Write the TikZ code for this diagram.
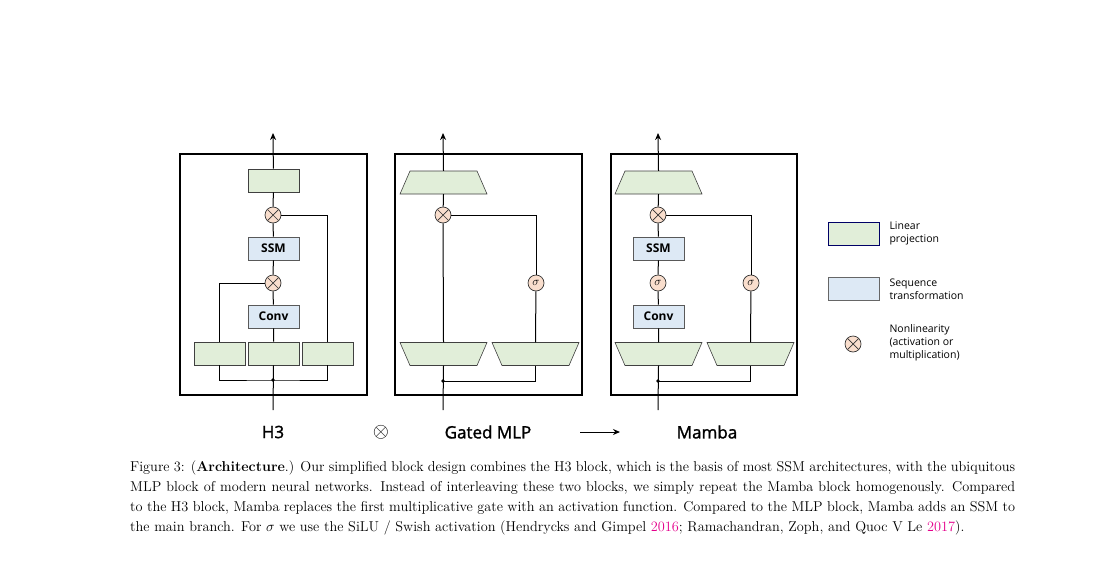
\documentclass[tikz,border=0pt]{standalone}
\usepackage{fontspec}
\newfontfamily\osans{Open Sans}
\newfontfamily\osanssb{Open Sans}[FakeBold=1.5]
\usetikzlibrary{arrows.meta,calc}
\definecolor{lgreen}{HTML}{E1EED9}
\definecolor{lblue}{HTML}{DDE9F5}
\definecolor{lpeach}{HTML}{F9DECD}
\definecolor{cite}{RGB}{228,0,140}
% #1 name, #2 cx, #3 cy, #4 = +1 wide at bottom, -1 wide at top
\newcommand\mytrap[4]{%
  \node[minimum width=87pt,minimum height=23pt,inner sep=0pt] (#1) at (#2,#3) {};
  \draw[draw=black!75,fill=lgreen,line width=0.6pt]
    ($(#1.center)+(-43.5+5+5*#4,-11.5)$) -- ($(#1.center)+(43.5-5-5*#4,-11.5)$) --
    ($(#1.center)+(43.5-5+5*#4,11.5)$) -- ($(#1.center)+(-43.5+5-5*#4,11.5)$) -- cycle;}
\begin{document}
\begin{tikzpicture}[x=1pt,y=-1pt,
  lin/.style={draw=black!75,fill=lgreen,minimum width=51pt,minimum height=23pt,inner sep=0pt,line width=0.6pt},
  seq/.style={draw=black!65,fill=lblue,minimum width=51pt,minimum height=23pt,inner sep=0pt,line width=0.6pt,font=\osans\bfseries\fontsize{12}{12}\selectfont},
  mul/.style={circle,draw=black!80,fill=lpeach,minimum size=16pt,inner sep=0pt,line width=0.7pt,
    path picture={\draw[line width=0.7pt] ([xshift=-5.5pt,yshift=-5.5pt]path picture bounding box.center)--([xshift=5.5pt,yshift=5.5pt]path picture bounding box.center) ([xshift=-5.5pt,yshift=5.5pt]path picture bounding box.center)--([xshift=5.5pt,yshift=-5.5pt]path picture bounding box.center);}},
  sig/.style={circle,draw=black!80,fill=lpeach,minimum size=16pt,inner sep=0pt,line width=0.7pt,font=\fontsize{13}{13}\selectfont},
  frame/.style={draw,line width=1.5pt},
  wire/.style={line width=1pt},
  arr/.style={wire,-{Stealth[length=7pt,width=6pt]}},
  lbl/.style={font=\osanssb\fontsize{17}{17}\selectfont},
  leg/.style={font=\osans\fontsize{10.5}{13}\selectfont,align=left,anchor=west}]
\useasboundingbox (0,0) rectangle (1105,573);
% ---------- H3
\draw[frame] (180,154) rectangle (367,395);
\node[lin] (h3top) at (273.5,180.5) {};
\node[mul] (h3m1) at (273,215) {};
\node[seq] (h3ssm) at (273.5,248.5) {SSM};
\node[mul] (h3m2) at (273,283) {};
\node[seq] (h3conv) at (273.5,316.5) {Conv};
\node[lin] (h3l) at (219.5,353.5) {};
\node[lin] (h3c) at (273.5,353.5) {};
\node[lin] (h3r) at (327.5,353.5) {};
\coordinate (h3in) at (273,410);
\coordinate (h3out) at (273,133);
\coordinate (h3dot) at (273,380);
\draw[wire] (h3in) -- (h3c.south);
\draw[wire] (h3c) -- (h3conv) (h3conv) -- (h3m2) (h3m2) -- (h3ssm) (h3ssm) -- (h3m1) (h3m1) -- (h3top);
\draw[arr] (h3top) -- (h3out);
\draw[wire] (h3l.south) |- (h3dot) -| (h3r.south);
\draw[wire] (h3l.north) |- (h3m2.west);
\draw[wire] (h3r.north) |- (h3m1.east);
\fill (h3dot) circle (1.8pt);
% ---------- Gated MLP
\draw[frame] (395,154) rectangle (582,395);
\mytrap{gtop}{443.5}{182.5}{1}
\node[mul] (gm) at (443,215) {};
\node[sig] (gs) at (536,283) {$\sigma$};
\mytrap{gl}{443.5}{354}{-1}
\mytrap{gr}{535.5}{354}{-1}
\coordinate (gin) at (443,410);
\coordinate (gout) at (443,133);
\coordinate (gdot) at (443,381);
\draw[wire] (gin) -- (gl.south);
\draw[wire] (gl.north) -- (gm) (gm) -- (gtop.south);
\draw[arr] (gtop.north) -- (gout);
\draw[wire] (gdot) -| (gr.south);
\draw[wire] (gr.north) -- (gs);
\draw[wire] (gs) |- (gm.east);
\fill (gdot) circle (1.8pt);
% ---------- Mamba
\draw[frame] (611,154) rectangle (797,395);
\mytrap{mtop}{658.5}{182.5}{1}
\node[mul] (mm) at (658,215) {};
\node[seq] (mssm) at (658.5,248.5) {SSM};
\node[sig] (ms1) at (658,283) {$\sigma$};
\node[seq] (mconv) at (658.5,316.5) {Conv};
\node[sig] (ms2) at (751,283) {$\sigma$};
\mytrap{ml}{658.5}{354}{-1}
\mytrap{mr}{750.5}{354}{-1}
\coordinate (min) at (658,410);
\coordinate (mout) at (658,133);
\coordinate (mdot) at (658,381);
\draw[wire] (min) -- (ml.south);
\draw[wire] (ml.north) -- (mconv) (mconv) -- (ms1) (ms1) -- (mssm) (mssm) -- (mm) (mm) -- (mtop.south);
\draw[arr] (mtop.north) -- (mout);
\draw[wire] (mdot) -| (mr.south);
\draw[wire] (mr.north) -- (ms2);
\draw[wire] (ms2) |- (mm.east);
\fill (mdot) circle (1.8pt);
% ---------- legend
\node[lin,draw=black!60!blue] (lg1) at (853.5,233.5) {};
\node[leg] (lt1) at (886,233) {Linear\\projection};
\node[seq,draw=black!60] (lg2) at (853.5,289) {};
\node[leg] (lt2) at (886,289.5) {Sequence\\transformation};
\node[mul] (lg3) at (853,344) {};
\node[leg] (lt3) at (886,343) {Nonlinearity\\(activation or\\multiplication)};
% ---------- bottom labels
\node[lbl] (t1) at (273,432) {H3};
\node[font=\fontsize{22}{22}\selectfont] (t2) at (381,432) {$\otimes$};
\node[lbl] (t3) at (488,432) {Gated MLP};
\coordinate (a1) at (580,432);
\coordinate (a2) at (620,432);
\draw[wire,-{Stealth[length=7pt,width=6pt]}] (a1) -- (a2);
\node[lbl] (t4) at (707,432) {Mamba};
% ---------- caption
\node[anchor=north west,text width=885pt,align=justify,inner sep=0pt,font=\fontsize{14.3}{20}\selectfont] (cap) at (130,461)
{Figure 3: (\textbf{Architecture}.) Our simplified block design combines the H3 block, which is the basis of most SSM architectures, with the ubiquitous MLP block of modern neural networks. Instead of interleaving these two blocks, we simply repeat the Mamba block homogenously. Compared to the H3 block, Mamba replaces the first multiplicative gate with an activation function. Compared to the MLP block, Mamba adds an SSM to the main branch. For $\sigma$ we use the SiLU / Swish activation (Hendrycks and Gimpel \textcolor{cite}{2016}; Ramachandran, Zoph, and Quoc V Le \textcolor{cite}{2017}).};
\end{tikzpicture}
\end{document}
